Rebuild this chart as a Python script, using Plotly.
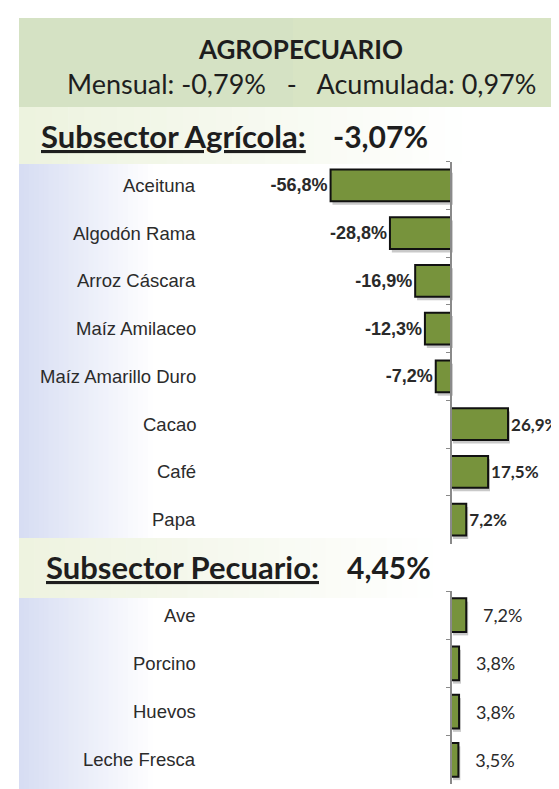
import plotly.graph_objects as go

# ---------------- data ----------------
title_main = "AGROPECUARIO"
title_sub = "Mensual: -0,79%\u00a0\u00a0 -\u00a0\u00a0 Acumulada: 0,97%"
agri_title = "Subsector Agrícola:"
agri_total = "-3,07%"
pec_title = "Subsector Pecuario:"
pec_total = "4,45%"

agri_cats = ["Aceituna", "Algodón Rama", "Arroz Cáscara", "Maíz Amilaceo",
             "Maíz Amarillo Duro", "Cacao", "Café", "Papa"]
agri_vals = [-56.8, -28.8, -16.9, -12.3, -7.2, 26.9, 17.5, 7.2]

pec_cats = ["Ave", "Porcino", "Huevos", "Leche Fresca"]
pec_vals = [7.2, 3.8, 3.8, 3.5]

# ---------------- layout helpers ----------------
W, H = 559, 789


def px(x):
    return x / W


def py(y):
    return 1 - y / H


def lerp(c0, c1, t):
    return "rgb(%d,%d,%d)" % tuple(round(a + (b - a) * t) for a, b in zip(c0, c1))


shapes = []


def hgrad(x0, x1, y0, y1, c0, c1, n=28):
    step = (x1 - x0) / n
    for i in range(n):
        shapes.append(dict(type="rect", xref="paper", yref="paper",
                           x0=px(x0 + i * step), x1=px(x0 + (i + 1) * step + 0.6),
                           y0=py(y1), y1=py(y0), line_width=0,
                           fillcolor=lerp(c0, c1, i / (n - 1)), layer="below"))


# header band
hgrad(11, 559, 10, 99, (213, 226, 196), (216, 228, 196), n=2)
# agricola band
hgrad(11, 470, 99, 156, (237, 243, 223), (255, 255, 255))
# left bluish gradient
hgrad(11, 150, 156, 530, (215, 221, 243), (255, 255, 255))
hgrad(11, 150, 590, 782, (215, 221, 243), (255, 255, 255))
# pecuario band
hgrad(11, 440, 530, 590, (238, 243, 224), (255, 255, 255))

BAR = "#77933c"
SHADOW = "rgba(60,60,60,0.28)"
SCALE = 2.12
XR = [-443 / SCALE, (W - 443) / SCALE]

neg_font = "Liberation Sans, Arial"
pos_font = "Lato, Liberation Sans"

fig = go.Figure()


def add_bars(cats, vals, xa, ya, width, tmpl, tfont):
    # soft drop shadow (offset down/right), then the bar itself
    fig.add_trace(go.Bar(
        y=cats, x=vals, orientation="h", xaxis=xa, yaxis=ya,
        base=0.9, width=width, offset=-width / 2 + 0.07,
        marker=dict(color=SHADOW, line_width=0),
        showlegend=False, hoverinfo="skip"))
    fig.add_trace(go.Bar(
        y=cats, x=vals, orientation="h", xaxis=xa, yaxis=ya,
        marker=dict(color=BAR, line=dict(color="#111111", width=2)),
        width=width, texttemplate=tmpl, textposition="outside",
        textfont=tfont, constraintext="none",
        cliponaxis=False, showlegend=False, hoverinfo="skip"))


add_bars(agri_cats, agri_vals, "x", "y", 0.67, "<b>%{x:.1f}%</b>",
         dict(family=[neg_font if v < 0 else pos_font for v in agri_vals],
              size=[18 if v < 0 else 17 for v in agri_vals], color="#2a2a2a"))
add_bars(pec_cats, pec_vals, "x2", "y2", 0.7, "\u00a0\u00a0\u00a0%{x:.1f}%",
         dict(family=pos_font, size=18, color="#2a2a2a"))

yax_common = dict(type="category", anchor="free", position=px(443),
                  showline=True, linecolor="#8a8a8a", linewidth=1.5,
                  ticks="outside", tickson="boundaries", ticklen=4,
                  tickcolor="#8a8a8a", showticklabels=False,
                  showgrid=False, zeroline=False, fixedrange=True)

label_font = dict(family="Liberation Sans, Arial", size=18.5, color="#2b2b2b")
annotations = []
for c in agri_cats:
    annotations.append(dict(text=c, xref="paper", x=px(190), xanchor="right",
                            yref="y", y=c, yanchor="middle", showarrow=False,
                            font=label_font))
for c in pec_cats:
    annotations.append(dict(text=c, xref="paper", x=px(190), xanchor="right",
                            yref="y2", y=c, yanchor="middle", showarrow=False,
                            font=label_font))

hdr = dict(family="Lato", color="#1e1e1e")
annotations += [
    dict(text="<b>" + title_main + "</b>", xref="paper", yref="paper",
         x=px(292), xanchor="center", y=py(41), yanchor="middle",
         showarrow=False, font=dict(size=26, **hdr)),
    dict(text=title_sub, xref="paper", yref="paper",
         x=px(293), xanchor="center", y=py(75), yanchor="middle",
         showarrow=False, font=dict(size=27, **hdr)),
    dict(text="<b><u>" + agri_title + "</u></b>", xref="paper", yref="paper",
         x=px(31), xanchor="left", y=py(128), yanchor="middle",
         showarrow=False, font=dict(size=31, **hdr)),
    dict(text="<b>" + agri_total + "</b>", xref="paper", yref="paper",
         x=px(323), xanchor="left", y=py(128), yanchor="middle",
         showarrow=False, font=dict(size=30, **hdr)),
    dict(text="<b><u>" + pec_title + "</u></b>", xref="paper", yref="paper",
         x=px(36), xanchor="left", y=py(559), yanchor="middle",
         showarrow=False, font=dict(size=31, **hdr)),
    dict(text="<b>" + pec_total + "</b>", xref="paper", yref="paper",
         x=px(337), xanchor="left", y=py(559), yanchor="middle",
         showarrow=False, font=dict(size=30, **hdr)),
]

fig.update_layout(
    width=W, height=H, margin=dict(l=0, r=0, t=0, b=0),
    paper_bgcolor="white", plot_bgcolor="rgba(0,0,0,0)",
    separators=",.", barmode="overlay", showlegend=False,
    shapes=shapes, annotations=annotations,
    xaxis=dict(domain=[0, 1], range=XR, visible=False, anchor="y", fixedrange=True),
    xaxis2=dict(domain=[0, 1], range=XR, visible=False, anchor="y2", fixedrange=True),
    yaxis=dict(domain=[py(535.5), py(153.5)], categoryarray=agri_cats,
               categoryorder="array", range=[7.5, -0.5], **yax_common),
    yaxis2=dict(domain=[py(776), py(583)], categoryarray=pec_cats,
                categoryorder="array", range=[3.5, -0.5], **yax_common),
)

fig.write_html("out.html")
